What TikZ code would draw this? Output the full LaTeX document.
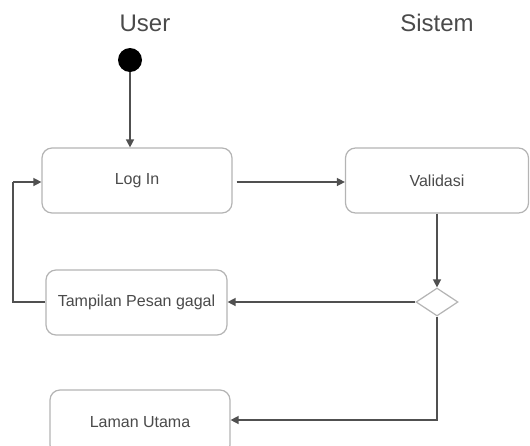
\documentclass[tikz,border=0pt]{standalone}
\usepackage{fontspec}
\setmainfont{Liberation Sans}
\usetikzlibrary{shapes.geometric,arrows.meta}
\definecolor{txt}{HTML}{4A4A4A}
\definecolor{edge}{HTML}{B4B4B4}
\definecolor{wire}{HTML}{505050}
\begin{document}
\begin{tikzpicture}[x=1pt,y=-1pt,
  act/.style={draw=edge,line width=1.2pt,rounded corners=10pt,fill=white,
    minimum width=#1,minimum height=65pt,inner sep=0pt,text=txt,font=\fontsize{16}{19}\selectfont},
  act/.default=190pt,
  lane/.style={text=txt,font=\fontsize{24}{29}\selectfont},
  flow/.style={draw=wire,line width=1.4pt,-{Triangle[length=8pt,width=8pt]}},
  plain/.style={draw=wire,line width=1.4pt}]
\useasboundingbox (0,0) rectangle (530,445);
\clip (0,0) rectangle (530,445);
\node[lane] (user) at (145,23) {User};
\node[lane] (sistem) at (437,23) {Sistem};
\node[circle,fill=black,minimum size=24pt,inner sep=0pt] (start) at (130,60) {};
\node[act=190pt] (login) at (137,180.5) {Log In};
\node[act=183pt] (valid) at (437,180.5) {Validasi};
\node[diamond,draw=edge,line width=1.2pt,fill=white,minimum width=42pt,minimum height=28pt,inner sep=0pt] (dec) at (437,302) {};
\node[act=181pt] (gagal) at (136.5,302.5) {Tampilan Pesan gagal};
\node[act=180pt] (laman) at (140,422.5) {Laman Utama};
\coordinate (loop) at (13,182);
\draw[flow] (start) -- (start |- login.north);
\draw[flow] ([xshift=4pt]login.east |- 0,182) -- (valid.west |- 0,182);
\draw[flow] (valid.south) -- (dec.north);
\draw[flow] (dec.west) -- (gagal.east |- dec.west);
\draw[plain] (gagal.west |- 0,302) -| (loop);
\draw[flow] (loop) -- (login.west |- loop);
\draw[flow] (dec.south) |- (laman.east |- 0,420);
\end{tikzpicture}
\end{document}
